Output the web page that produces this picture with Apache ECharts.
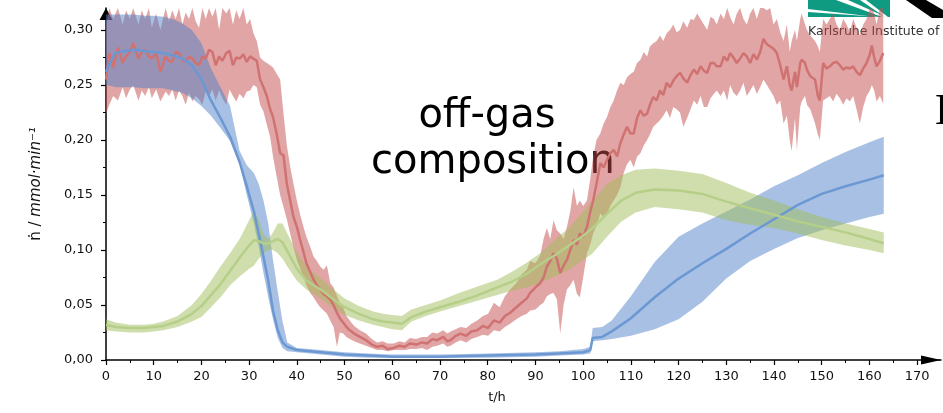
<!DOCTYPE html>
<html>
	<head>
		<meta charset="UTF-8">
		<title>off-gas composition</title>
		<script src="https://cdn.jsdelivr.net/npm/echarts@6/dist/echarts.min.js"></script>
		<style>
			html, body { margin: 0; padding: 0; background: #fff; }
			#chart { width: 943px; height: 413px; }
		</style>
	</head>
	<body>
		<div id="chart"></div>
		<script>
		// tick labels
		var xTicks = [0, 10, 20, 30, 40, 50, 60, 70, 80, 90, 100, 110, 120, 130, 140, 150, 160, 170];
		var yTicks = [0, 0.05, 0.10, 0.15, 0.20, 0.25, 0.30];

		// blue series (mean and band)
		var blueT    = [0, 1, 2, 4, 6, 8, 10, 12, 14, 16, 18, 20, 22, 24, 26, 28, 29.5, 31, 32, 33, 34, 35, 36, 37, 38, 40, 45, 50, 55, 60, 70, 80, 90, 95, 100, 101.5, 102, 104, 106, 110, 115, 120, 125, 130, 135, 140, 145, 150, 155, 160, 163];
		var blueMean = [0.262, 0.272, 0.279, 0.281, 0.282, 0.281, 0.280, 0.279, 0.277, 0.274, 0.268, 0.255, 0.236, 0.220, 0.203, 0.180, 0.158, 0.135, 0.115, 0.094, 0.072, 0.045, 0.027, 0.016, 0.012, 0.009, 0.007, 0.005, 0.004, 0.003, 0.003, 0.004, 0.005, 0.006, 0.007, 0.009, 0.020, 0.021, 0.026, 0.038, 0.057, 0.074, 0.088, 0.101, 0.115, 0.128, 0.141, 0.151, 0.158, 0.164, 0.168];
		var blueLow  = [0.250, 0.249, 0.248, 0.248, 0.248, 0.247, 0.247, 0.247, 0.245, 0.243, 0.238, 0.231, 0.222, 0.211, 0.199, 0.178, 0.150, 0.124, 0.103, 0.079, 0.057, 0.037, 0.020, 0.011, 0.008, 0.007, 0.005, 0.003, 0.002, 0.002, 0.002, 0.002, 0.003, 0.004, 0.005, 0.006, 0.017, 0.018, 0.019, 0.022, 0.028, 0.037, 0.053, 0.074, 0.090, 0.101, 0.111, 0.118, 0.124, 0.130, 0.133];
		var blueHigh = [0.314, 0.314, 0.314, 0.314, 0.314, 0.313, 0.313, 0.312, 0.310, 0.306, 0.300, 0.288, 0.265, 0.248, 0.231, 0.190, 0.177, 0.170, 0.160, 0.145, 0.124, 0.091, 0.062, 0.035, 0.016, 0.011, 0.009, 0.007, 0.006, 0.005, 0.005, 0.006, 0.007, 0.008, 0.010, 0.012, 0.029, 0.030, 0.036, 0.058, 0.089, 0.112, 0.124, 0.135, 0.146, 0.158, 0.168, 0.179, 0.189, 0.198, 0.203];

		// green series
		var greenT    = [0, 2, 5, 8, 10, 12, 15, 18, 20, 22, 24, 26, 28, 30, 31, 32, 33, 34, 35, 36, 37, 38, 40, 42, 45, 48, 50, 53, 56, 58, 60, 62, 64, 67, 70, 74, 78, 82, 85, 88, 91, 94, 97, 100, 102, 105, 108, 111, 115, 120, 125, 130, 135, 140, 145, 150, 155, 160, 163];
		var greenMean = [0.032, 0.030, 0.029, 0.029, 0.030, 0.031, 0.035, 0.042, 0.049, 0.059, 0.069, 0.081, 0.093, 0.104, 0.109, 0.108, 0.106, 0.106, 0.108, 0.110, 0.107, 0.099, 0.083, 0.072, 0.064, 0.054, 0.048, 0.042, 0.037, 0.035, 0.034, 0.033, 0.039, 0.044, 0.048, 0.053, 0.059, 0.066, 0.071, 0.078, 0.087, 0.095, 0.104, 0.113, 0.120, 0.133, 0.145, 0.152, 0.155, 0.154, 0.151, 0.144, 0.138, 0.132, 0.126, 0.121, 0.116, 0.110, 0.106];
		var greenLow  = [0.027, 0.026, 0.025, 0.025, 0.026, 0.027, 0.030, 0.035, 0.039, 0.048, 0.057, 0.068, 0.076, 0.083, 0.086, 0.092, 0.097, 0.100, 0.100, 0.097, 0.092, 0.085, 0.072, 0.064, 0.056, 0.046, 0.041, 0.036, 0.032, 0.030, 0.028, 0.027, 0.035, 0.040, 0.044, 0.049, 0.054, 0.059, 0.063, 0.066, 0.070, 0.076, 0.082, 0.091, 0.097, 0.112, 0.126, 0.134, 0.139, 0.137, 0.134, 0.127, 0.123, 0.120, 0.115, 0.109, 0.104, 0.100, 0.097];
		var greenHigh = [0.037, 0.034, 0.032, 0.032, 0.033, 0.035, 0.040, 0.050, 0.060, 0.072, 0.085, 0.097, 0.110, 0.127, 0.136, 0.128, 0.114, 0.110, 0.116, 0.124, 0.124, 0.115, 0.098, 0.085, 0.074, 0.063, 0.056, 0.049, 0.044, 0.042, 0.041, 0.040, 0.046, 0.050, 0.054, 0.061, 0.067, 0.073, 0.080, 0.088, 0.097, 0.109, 0.120, 0.135, 0.145, 0.160, 0.168, 0.173, 0.174, 0.172, 0.169, 0.161, 0.152, 0.145, 0.137, 0.130, 0.124, 0.119, 0.116];

		// red series (noisy)
		var redT    = [0, 0.7, 1.5, 2.5, 3.5, 4.2, 5, 5.7, 6.8, 7.5, 8.2, 9, 9.6, 10.5, 11.4, 12.5, 13.2, 13.9, 14.6, 15.3, 16, 16.7, 17.4, 18.1, 18.8, 19.5, 20.2, 20.9, 21.6, 22.3, 23, 23.7, 24.4, 25.2, 25.9, 26.6, 27.3, 28, 28.8, 29.5, 30.2, 30.9, 31.6, 32.3, 33, 33.7, 34.4, 35, 35.8, 36.5, 37.2, 37.9, 38.6, 39.3, 40, 40.7, 41.4, 42, 42.8, 43.5, 44.2, 44.9, 45.6, 46.3, 47, 47.7, 48.4, 49, 49.7, 50.4, 51.1, 52, 53.2, 54.5, 55.7, 56.8, 58, 59, 60.3, 61.5, 62.6, 63.7, 65, 66.2, 67.3, 68.4, 69.4, 70.7, 71.5, 72.2, 73.3, 74.3, 75.5, 76.6, 77.8, 79, 80.1, 81.3, 82.5, 83.6, 84.7, 86, 87.1, 88.2, 88.9, 90, 91, 91.7, 92.4, 93.1, 93.8, 94.5, 95.2, 95.9, 96.6, 97.3, 98, 98.7, 99.3, 100, 100.8, 101.5, 102.1, 102.8, 103.6, 104.3, 105, 105.7, 106.4, 107.1, 107.8, 108.5, 109.2, 109.9, 110.6, 111.3, 112, 112.7, 113.4, 114, 114.7, 115.4, 116.1, 116.8, 117.5, 118.2, 118.9, 119.6, 120.3, 121, 121.8, 122.5, 123.2, 123.9, 124.6, 125.3, 126, 126.7, 127.4, 128, 128.8, 129.5, 130.2, 130.8, 131.5, 132.2, 132.9, 133.6, 134.3, 135, 135.7, 136.4, 137.1, 137.8, 138.5, 139.2, 139.9, 140.6, 141.3, 142, 142.7, 143.3, 143.7, 144.4, 144.8, 145.5, 145.8, 146.5, 146.9, 147.6, 148.6, 149.2, 149.6, 150.3, 151, 151.7, 152.4, 153.1, 153.8, 154.5, 155.2, 155.9, 156.6, 157.3, 158, 158.7, 159.4, 160.1, 160.5, 161, 161.5, 162.2, 162.9];
		var redMean = [0.255, 0.279, 0.266, 0.284, 0.270, 0.276, 0.280, 0.288, 0.274, 0.280, 0.282, 0.276, 0.274, 0.279, 0.262, 0.276, 0.272, 0.271, 0.280, 0.279, 0.272, 0.271, 0.276, 0.274, 0.270, 0.268, 0.276, 0.274, 0.282, 0.280, 0.268, 0.276, 0.272, 0.279, 0.281, 0.268, 0.275, 0.274, 0.278, 0.271, 0.276, 0.274, 0.272, 0.255, 0.248, 0.240, 0.228, 0.221, 0.205, 0.188, 0.186, 0.160, 0.145, 0.130, 0.121, 0.109, 0.098, 0.088, 0.080, 0.073, 0.068, 0.064, 0.060, 0.058, 0.055, 0.050, 0.043, 0.038, 0.034, 0.030, 0.027, 0.024, 0.021, 0.018, 0.014, 0.012, 0.013, 0.010, 0.011, 0.013, 0.012, 0.015, 0.014, 0.016, 0.015, 0.019, 0.018, 0.021, 0.017, 0.018, 0.022, 0.024, 0.022, 0.026, 0.027, 0.031, 0.029, 0.036, 0.034, 0.040, 0.043, 0.048, 0.052, 0.056, 0.061, 0.066, 0.070, 0.075, 0.085, 0.090, 0.097, 0.092, 0.079, 0.086, 0.091, 0.100, 0.109, 0.105, 0.115, 0.112, 0.121, 0.135, 0.145, 0.160, 0.179, 0.175, 0.182, 0.188, 0.191, 0.185, 0.197, 0.205, 0.212, 0.206, 0.206, 0.220, 0.227, 0.222, 0.224, 0.232, 0.239, 0.236, 0.245, 0.241, 0.252, 0.248, 0.254, 0.258, 0.261, 0.256, 0.252, 0.259, 0.264, 0.260, 0.267, 0.263, 0.261, 0.270, 0.270, 0.267, 0.267, 0.276, 0.272, 0.279, 0.275, 0.270, 0.274, 0.279, 0.276, 0.270, 0.278, 0.273, 0.280, 0.292, 0.287, 0.285, 0.283, 0.279, 0.268, 0.255, 0.267, 0.250, 0.245, 0.262, 0.248, 0.270, 0.273, 0.270, 0.264, 0.258, 0.255, 0.240, 0.236, 0.270, 0.265, 0.267, 0.270, 0.271, 0.268, 0.264, 0.266, 0.265, 0.267, 0.262, 0.259, 0.265, 0.270, 0.278, 0.286, 0.275, 0.267, 0.272, 0.279];
		var redLow  = [0.224, 0.232, 0.240, 0.236, 0.248, 0.238, 0.246, 0.250, 0.236, 0.245, 0.240, 0.248, 0.238, 0.246, 0.235, 0.244, 0.240, 0.246, 0.236, 0.245, 0.240, 0.232, 0.243, 0.235, 0.240, 0.237, 0.232, 0.244, 0.240, 0.246, 0.236, 0.245, 0.238, 0.232, 0.246, 0.240, 0.235, 0.242, 0.238, 0.244, 0.245, 0.250, 0.248, 0.232, 0.226, 0.214, 0.203, 0.185, 0.166, 0.150, 0.139, 0.128, 0.115, 0.102, 0.091, 0.083, 0.075, 0.068, 0.061, 0.057, 0.052, 0.048, 0.045, 0.042, 0.036, 0.030, 0.012, 0.025, 0.024, 0.021, 0.019, 0.017, 0.015, 0.013, 0.011, 0.009, 0.009, 0.008, 0.009, 0.009, 0.009, 0.010, 0.010, 0.011, 0.009, 0.012, 0.013, 0.015, 0.012, 0.013, 0.016, 0.018, 0.016, 0.019, 0.021, 0.023, 0.022, 0.027, 0.026, 0.030, 0.033, 0.037, 0.040, 0.042, 0.045, 0.046, 0.050, 0.052, 0.058, 0.060, 0.061, 0.055, 0.024, 0.050, 0.064, 0.068, 0.073, 0.060, 0.057, 0.075, 0.097, 0.105, 0.115, 0.122, 0.133, 0.130, 0.133, 0.140, 0.145, 0.150, 0.157, 0.170, 0.178, 0.182, 0.175, 0.185, 0.188, 0.195, 0.200, 0.205, 0.212, 0.215, 0.218, 0.222, 0.227, 0.220, 0.230, 0.228, 0.225, 0.212, 0.220, 0.228, 0.236, 0.232, 0.240, 0.230, 0.230, 0.238, 0.242, 0.245, 0.240, 0.245, 0.236, 0.250, 0.243, 0.240, 0.245, 0.252, 0.240, 0.245, 0.250, 0.242, 0.248, 0.255, 0.250, 0.245, 0.240, 0.232, 0.236, 0.215, 0.222, 0.200, 0.190, 0.220, 0.191, 0.230, 0.235, 0.240, 0.232, 0.228, 0.215, 0.205, 0.200, 0.236, 0.238, 0.240, 0.235, 0.242, 0.238, 0.232, 0.238, 0.235, 0.240, 0.228, 0.215, 0.230, 0.240, 0.245, 0.250, 0.245, 0.235, 0.240, 0.233];
		var redHigh = [0.305, 0.320, 0.310, 0.320, 0.305, 0.318, 0.310, 0.320, 0.305, 0.318, 0.310, 0.320, 0.302, 0.315, 0.300, 0.320, 0.308, 0.318, 0.310, 0.320, 0.305, 0.316, 0.310, 0.320, 0.308, 0.302, 0.320, 0.310, 0.320, 0.312, 0.320, 0.300, 0.320, 0.315, 0.320, 0.305, 0.318, 0.310, 0.320, 0.305, 0.310, 0.297, 0.290, 0.275, 0.272, 0.270, 0.268, 0.266, 0.260, 0.255, 0.224, 0.195, 0.176, 0.160, 0.145, 0.132, 0.121, 0.112, 0.103, 0.094, 0.090, 0.085, 0.082, 0.086, 0.070, 0.066, 0.058, 0.052, 0.048, 0.040, 0.036, 0.031, 0.027, 0.024, 0.019, 0.016, 0.017, 0.015, 0.015, 0.017, 0.016, 0.020, 0.019, 0.021, 0.021, 0.025, 0.024, 0.027, 0.024, 0.026, 0.028, 0.030, 0.029, 0.033, 0.036, 0.040, 0.042, 0.052, 0.048, 0.058, 0.064, 0.070, 0.078, 0.082, 0.090, 0.088, 0.095, 0.110, 0.120, 0.110, 0.127, 0.118, 0.115, 0.110, 0.121, 0.135, 0.157, 0.140, 0.145, 0.140, 0.145, 0.165, 0.185, 0.200, 0.206, 0.215, 0.221, 0.230, 0.236, 0.245, 0.252, 0.250, 0.257, 0.260, 0.262, 0.270, 0.273, 0.280, 0.276, 0.285, 0.288, 0.290, 0.295, 0.290, 0.297, 0.300, 0.305, 0.298, 0.300, 0.308, 0.302, 0.310, 0.309, 0.315, 0.310, 0.305, 0.300, 0.312, 0.310, 0.305, 0.315, 0.310, 0.320, 0.312, 0.305, 0.315, 0.320, 0.310, 0.305, 0.315, 0.320, 0.310, 0.320, 0.320, 0.318, 0.320, 0.305, 0.310, 0.298, 0.290, 0.305, 0.280, 0.290, 0.300, 0.290, 0.310, 0.315, 0.305, 0.300, 0.295, 0.290, 0.285, 0.280, 0.310, 0.305, 0.310, 0.315, 0.305, 0.300, 0.310, 0.305, 0.298, 0.310, 0.302, 0.295, 0.305, 0.310, 0.320, 0.320, 0.315, 0.305, 0.320, 0.320];

		var myChart = echarts.init(document.getElementById('chart'));
		myChart.setOption(create_option());

		// shaded band between low and high, built as one polygon through the grid's scales
		function band(t, low, high, color) {
			return {
				type: 'custom',
				silent: true,
				clip: true,
				data: t.map(function (v, i) { return [v, low[i], high[i]]; }),
				encode: { x: 0, y: [1, 2] },
				renderItem: function (params, api) {
					if (params.dataIndex !== 0) return null;
					var top = [], bottom = [];
					for (var i = 0; i < t.length; i++) {
						top.push(api.coord([t[i], high[i]]));
						bottom.push(api.coord([t[i], low[i]]));
					}
					return {
						type: 'polygon',
						shape: { points: top.concat(bottom.reverse()) },
						style: { fill: color }
					};
				}
			};
		}

		function meanLine(t, mean, color) {
			return {
				type: 'line',
				silent: true,
				showSymbol: false,
				symbol: 'none',
				data: t.map(function (v, i) { return [v, mean[i]]; }),
				lineStyle: { width: 2.5, color: color },
				itemStyle: { color: color }
			};
		}

		function create_option() {
			var font = 'DejaVu Sans';
			return {
				animation: false,
				backgroundColor: '#fff',
				grid: { left: 106, right: 2, top: 8, bottom: 53 },
				xAxis: {
					type: 'value',
					min: 0,
					max: 175,
					interval: 10,
					name: 't/h',
					nameLocation: 'middle',
					nameGap: 31,
					nameTextStyle: { fontFamily: font, fontSize: 13, color: '#111', padding: [0, 53, 0, 0] },
					axisLine: {
						show: true,
						onZero: false,
						symbol: ['none', 'triangle'],
						symbolSize: [9, 20],
						symbolOffset: [0, -10],
						lineStyle: { color: '#000', width: 1.5 }
					},
					axisTick: { show: true, length: 5, customValues: xTicks, lineStyle: { color: '#000', width: 1.2 } },
					minorTick: { show: true, splitNumber: 2, length: 3, lineStyle: { color: '#000', width: 1 } },
					axisLabel: { customValues: xTicks, margin: 10, fontFamily: font, fontSize: 13, color: '#111' },
					splitLine: { show: false }
				},
				yAxis: {
					type: 'value',
					min: 0,
					max: 0.32,
					interval: 0.05,
					name: '{n|ṅ / }{i|mmol·min⁻¹}',
					nameLocation: 'middle',
					nameRotate: 90,
					nameGap: 62,
					nameTextStyle: {
						fontFamily: font, fontSize: 15, color: '#111',
						rich: {
							n: { fontFamily: font, fontSize: 15, color: '#111' },
							i: { fontFamily: font, fontSize: 15, fontStyle: 'italic', color: '#111' }
						}
					},
					axisLine: {
						show: true,
						onZero: false,
						symbol: ['none', 'triangle'],
						symbolSize: [13, 12],
						symbolOffset: [0, -6],
						lineStyle: { color: '#000', width: 1.5 }
					},
					axisTick: { show: true, length: 5, customValues: yTicks, lineStyle: { color: '#000', width: 1.2 } },
					minorTick: { show: true, splitNumber: 2, length: 3, lineStyle: { color: '#000', width: 1 } },
					axisLabel: {
						customValues: yTicks,
						margin: 13,
						fontFamily: font,
						fontSize: 13,
						color: '#111',
						formatter: function (v) { return v.toFixed(2).replace('.', ','); }
					},
					splitLine: { show: false }
				},
				graphic: [
					{ type: 'text', z: 0, x: 487, y: 117, style: { text: 'off-gas', fontFamily: font, fontSize: 40, fill: '#000', align: 'center', verticalAlign: 'middle' } },
					{ type: 'text', z: 0, x: 493, y: 163, style: { text: 'composition', fontFamily: font, fontSize: 40, fill: '#000', align: 'center', verticalAlign: 'middle' } },
					// logo pieces, partly cut off at the top right
					{ type: 'polygon', z: 0, shape: { points: [[808, 0], [890, 0], [890, 17], [808, 17]] }, style: { fill: '#0f9a82' } },
					{ type: 'polygon', z: 0, shape: { points: [[836, 0], [848, 0], [886, 17], [882, 17]] }, style: { fill: '#fff' } },
					{ type: 'polygon', z: 0, shape: { points: [[860, 0], [866, 0], [888, 17], [885, 17]] }, style: { fill: '#fff' } },
					{ type: 'polygon', z: 0, shape: { points: [[808, 9], [808, 12], [880, 17], [876, 17]] }, style: { fill: '#fff' } },
					{ type: 'polygon', z: 0, shape: { points: [[906, 0], [926, 0], [943, 10], [943, 18], [932, 18]] }, style: { fill: '#000' } },
					{ type: 'text', z: 0, x: 808, y: 32, style: { text: 'Karlsruhe Institute of', fontFamily: font, fontSize: 12.5, fill: '#333', verticalAlign: 'middle' } },
					{ type: 'text', z: 0, x: 935, y: 112, style: { text: 'E', fontFamily: 'Liberation Serif', fontSize: 44, fill: '#000', verticalAlign: 'middle' } }
				],
				series: [
					band(redT, redLow, redHigh, 'rgba(195,75,75,0.5)'),
					meanLine(redT, redMean, '#d07272'),
					band(blueT, blueLow, blueHigh, 'rgba(80,130,200,0.5)'),
					meanLine(blueT, blueMean, '#6b98d3'),
					band(greenT, greenLow, greenHigh, 'rgba(160,190,90,0.5)'),
					meanLine(greenT, greenMean, '#b5cf88')
				]
			};
		}
		</script>
	</body>
</html>
